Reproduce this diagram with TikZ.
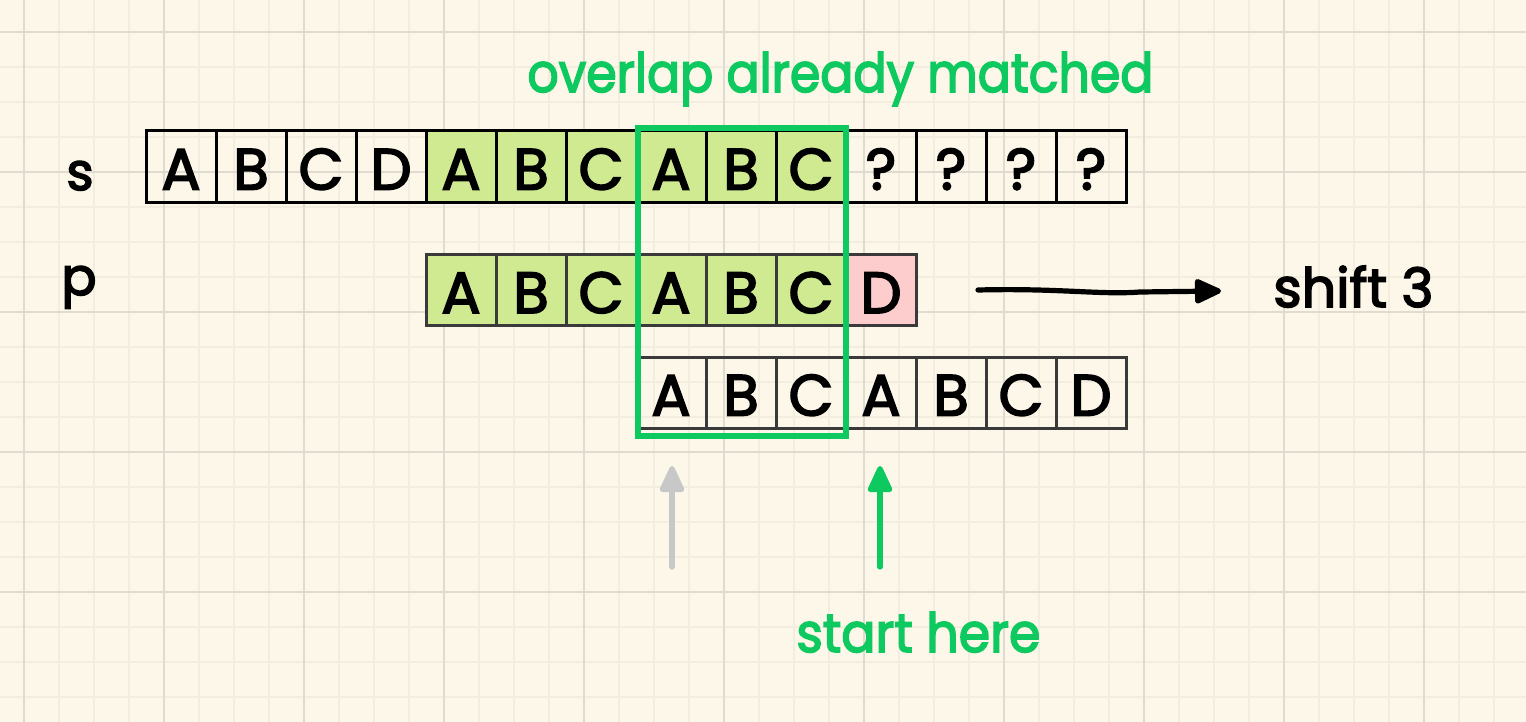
\documentclass[tikz,border=0pt]{standalone}
\usepackage{fontspec}
\setmainfont{Poppins}[FakeBold=3]
\usetikzlibrary{arrows.meta}
\definecolor{bg}{HTML}{FCF7E8}
\definecolor{minorgrid}{HTML}{F2EDDF}
\definecolor{majorgrid}{HTML}{DFDBD1}
\definecolor{matchfill}{HTML}{CFEA90}
\definecolor{missfill}{HTML}{FDCCCC}
\definecolor{hlgreen}{HTML}{0EC860}
\definecolor{hintgray}{HTML}{C8C8C8}
\definecolor{celledge}{HTML}{3A3A3A}
\begin{document}
\begin{tikzpicture}[x=0.5pt,y=-0.5pt,
  minorline/.style={minorgrid,line width=0.6pt},
  majorline/.style={majorgrid,line width=0.8pt},
  cell/.style={draw=celledge,line width=1.5pt,minimum width=35pt,minimum height=35.5pt,
    inner sep=0pt,text height=23pt,text depth=0pt,font=\fontsize{29pt}{30pt}\selectfont},
  scell/.style={cell,draw=black},
  hit/.style={fill=matchfill},
  miss/.style={fill=missfill},
  rowlabel/.style={anchor=base,inner sep=0pt,font=\fontsize{26pt}{27pt}\selectfont},
  note/.style={anchor=base west,inner sep=0pt,font=\fontsize{27pt}{28pt}\selectfont},
  hand/.style={line width=2.6pt,line cap=round,-{Triangle[length=15pt,width=13pt,round]}}]
\fill[bg] (0,0) rectangle (1526,722);
\useasboundingbox (0,0) rectangle (1526,722);
% grid
\foreach \x in {-11,24,...,1530} \draw[minorline] (\x,0) -- (\x,722);
\foreach \y in {-3,32,...,730} \draw[minorline] (0,\y) -- (1526,\y);
\foreach \x in {24,164,...,1530} \draw[majorline] (\x,0) -- (\x,722);
\foreach \y in {32,172,...,730} \draw[majorline] (0,\y) -- (1526,\y);
% row labels
\node[rowlabel] (ls) at (80,190) {s};
\node[rowlabel] (lp) at (79,295) {p};
% text row s
\foreach \l [count=\i from 0] in {A,B,C,D}
  \node[scell] (s\i) at (181+70*\i,166.5) {\l};
\foreach \l [count=\i from 4] in {A,B,C,A,B,C}
  \node[scell,hit] (s\i) at (181+70*\i,166.5) {\l};
\foreach \l [count=\i from 10] in {?,?,?,?}
  \node[scell] (s\i) at (181+70*\i,166.5) {\l};
% pattern row p
\foreach \l [count=\i from 0] in {A,B,C,A,B,C}
  \node[cell,hit] (p\i) at (461+70*\i,290) {\l};
\node[cell,miss] (p6) at (881,290) {D};
% shifted pattern
\foreach \l [count=\i from 0] in {A,B,C,A,B,C,D}
  \node[cell] (q\i) at (671+70*\i,392.5) {\l};
% overlap box
\draw[hlgreen,line width=2.6pt] (638,128) rectangle (846,436);
\node[note,text=hlgreen] (ov) at (527,92) {\resizebox{313pt}{\height}{overlap already matched}};
% shift arrow
\coordinate (sa1) at (978,290);
\coordinate (sa2) at (1221,291);
\draw[hand,black] (sa1) .. controls (1060,288) and (1100,295) .. (1140,292) -- (sa2);
\node[note] (sh) at (1273,307) {\resizebox{80pt}{\height}{shift 3}};
% pointers
\coordinate (ga1) at (672,567);
\coordinate (ga2) at (672,466);
\draw[hand,hintgray] (ga1) -- (ga2);
\coordinate (na1) at (880,567);
\coordinate (na2) at (880,466);
\draw[hand,hlgreen] (na1) -- (na2);
\node[note,text=hlgreen] (st) at (796,652) {\resizebox{122pt}{\height}{start here}};
\end{tikzpicture}
\end{document}
